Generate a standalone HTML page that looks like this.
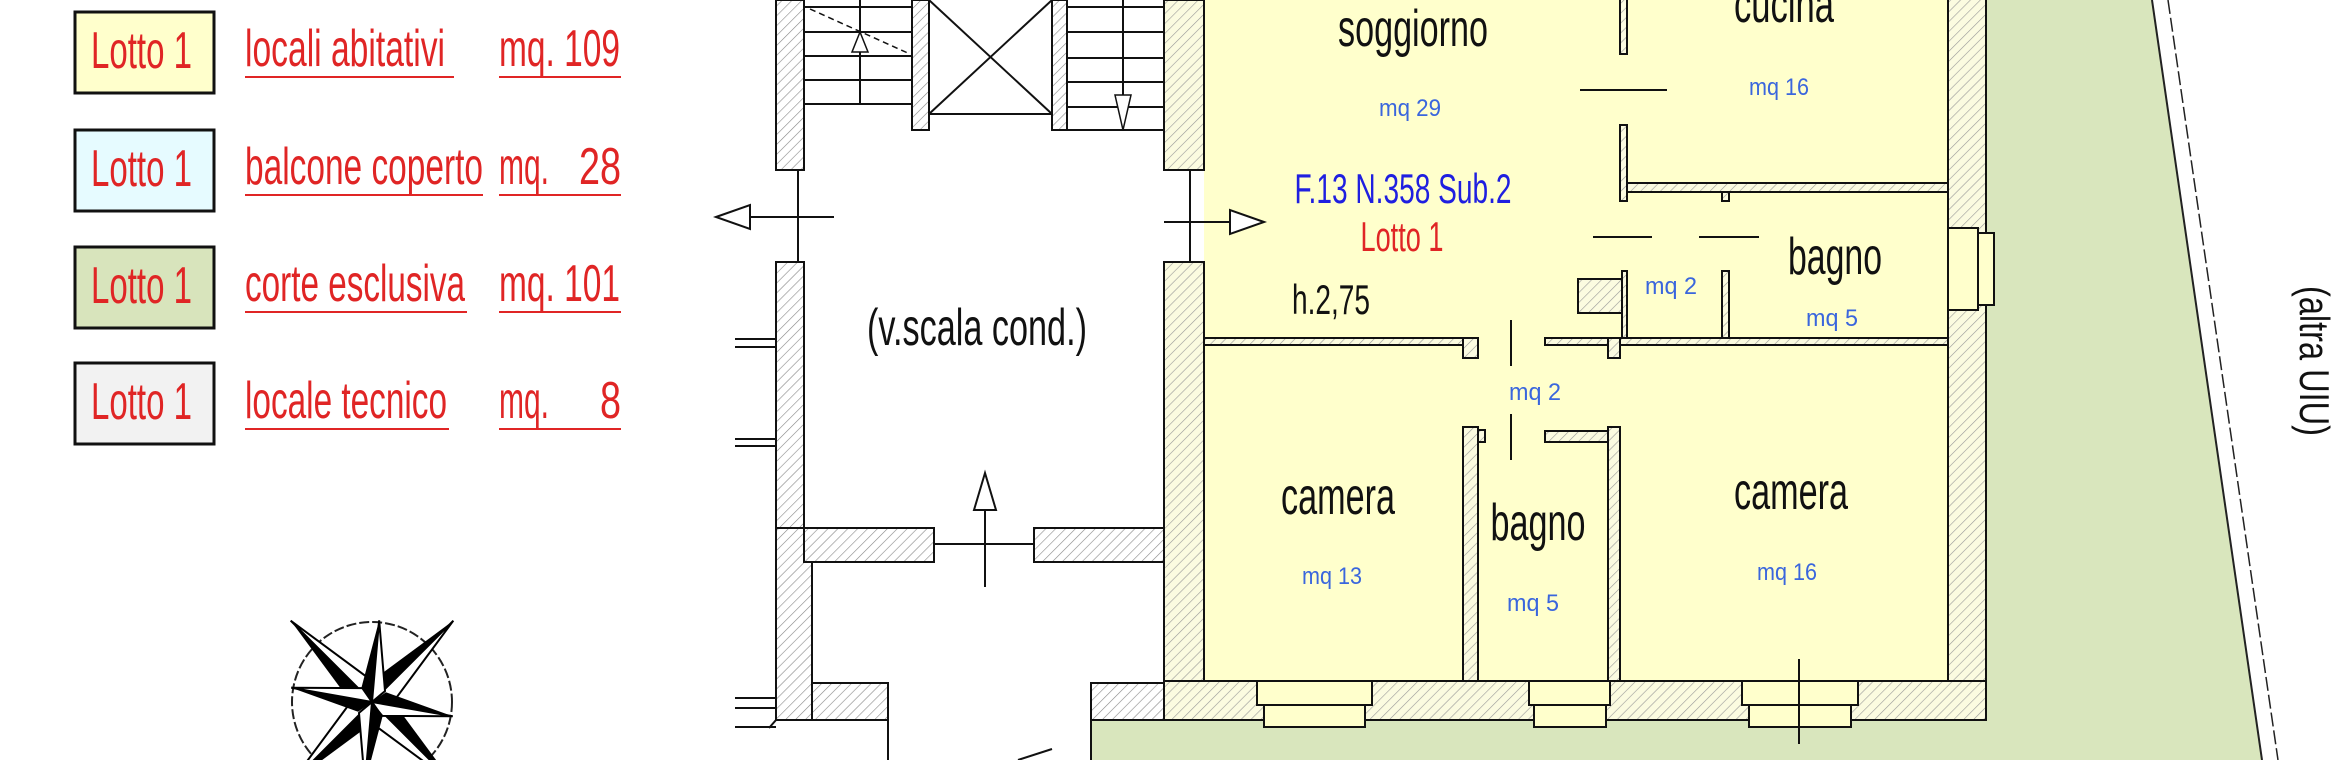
<!DOCTYPE html>
<html><head><meta charset="utf-8"><style>
html,body{margin:0;padding:0;background:#fff}
svg{display:block}
text{font-family:"Liberation Sans",sans-serif}
</style></head><body>
<svg width="2345" height="760" viewBox="0 0 2345 760" xmlns="http://www.w3.org/2000/svg">
<defs>
<pattern id="h" patternUnits="userSpaceOnUse" width="7" height="7" patternTransform="rotate(45)">
<rect width="7" height="7" fill="#fff"/><line x1="0" y1="0" x2="0" y2="7" stroke="#888" stroke-width="1.2"/>
</pattern>
<pattern id="hy" patternUnits="userSpaceOnUse" width="7" height="7" patternTransform="rotate(45)">
<rect width="7" height="7" fill="#fbfbe0"/><line x1="0" y1="0" x2="0" y2="7" stroke="#999" stroke-width="1.2"/>
</pattern>
</defs>
<rect width="2345" height="760" fill="#fff"/>

<!-- green court -->
<polygon points="1986,0 2152,0 2262,760 1091,760 1091,720 1986,720" fill="#d9e6bd"/>
<line x1="2152" y1="0" x2="2262" y2="760" stroke="#222" stroke-width="2"/>
<line x1="2168" y1="0" x2="2278" y2="760" stroke="#222" stroke-width="1.5" stroke-dasharray="14,4"/>

<!-- legend -->
<g stroke="#111" stroke-width="3">
<rect x="75" y="12" width="139" height="81" fill="#ffffcc"/>
<rect x="75" y="130" width="139" height="81" fill="#e6fbff"/>
<rect x="75" y="247" width="139" height="81" fill="#d8e4bc"/>
<rect x="75" y="363" width="139" height="81" fill="#f2f2f2"/>
</g>
<g fill="#e02525" font-size="52">
<text x="91" y="68" textLength="101" lengthAdjust="spacingAndGlyphs">Lotto 1</text>
<text x="91" y="186" textLength="101" lengthAdjust="spacingAndGlyphs">Lotto 1</text>
<text x="91" y="303" textLength="101" lengthAdjust="spacingAndGlyphs">Lotto 1</text>
<text x="91" y="419" textLength="101" lengthAdjust="spacingAndGlyphs">Lotto 1</text>
<text x="245" y="66" textLength="200" lengthAdjust="spacingAndGlyphs">locali abitativi</text>
<text x="245" y="184" textLength="238" lengthAdjust="spacingAndGlyphs">balcone coperto</text>
<text x="245" y="301" textLength="220" lengthAdjust="spacingAndGlyphs">corte esclusiva</text>
<text x="245" y="418" textLength="202" lengthAdjust="spacingAndGlyphs">locale tecnico</text>
<text x="499" y="66" textLength="121" lengthAdjust="spacingAndGlyphs">mq. 109</text>
<text x="499" y="184" textLength="50" lengthAdjust="spacingAndGlyphs">mq.</text>
<text x="621" y="184" text-anchor="end" textLength="42" lengthAdjust="spacingAndGlyphs">28</text>
<text x="499" y="301" textLength="121" lengthAdjust="spacingAndGlyphs">mq. 101</text>
<text x="499" y="418" textLength="50" lengthAdjust="spacingAndGlyphs">mq.</text>
<text x="621" y="418" text-anchor="end" textLength="21" lengthAdjust="spacingAndGlyphs">8</text>
</g>
<g stroke="#e02525" stroke-width="2">
<line x1="245" y1="77" x2="454" y2="77"/><line x1="499" y1="77" x2="621" y2="77"/>
<line x1="245" y1="195" x2="483" y2="195"/><line x1="499" y1="195" x2="621" y2="195"/>
<line x1="245" y1="312" x2="467" y2="312"/><line x1="499" y1="312" x2="621" y2="312"/>
<line x1="245" y1="429" x2="449" y2="429"/><line x1="499" y1="429" x2="621" y2="429"/>
</g>

<!-- compass -->
<g transform="translate(372,702)">
<circle r="80" fill="none" stroke="#222" stroke-width="2" stroke-dasharray="10,3"/>
<g transform="rotate(-45)">
<polygon points="0,-115 0,0 -15,-15" fill="#000"/><polygon points="0,-115 0,0 15,-15" fill="#fff" stroke="#000" stroke-width="2"/>
</g>
<g transform="rotate(45)">
<polygon points="0,-115 0,0 -15,-15" fill="#000"/><polygon points="0,-115 0,0 15,-15" fill="#fff" stroke="#000" stroke-width="2"/>
</g>
<g transform="rotate(135)">
<polygon points="0,-115 0,0 -15,-15" fill="#000"/><polygon points="0,-115 0,0 15,-15" fill="#fff" stroke="#000" stroke-width="2"/>
</g>
<g transform="rotate(225)">
<polygon points="0,-115 0,0 -15,-15" fill="#000"/><polygon points="0,-115 0,0 15,-15" fill="#fff" stroke="#000" stroke-width="2"/>
</g>
<g transform="rotate(5)">
<polygon points="0,-82 0,0 -12,-12" fill="#000"/><polygon points="0,-82 0,0 12,-12" fill="#fff" stroke="#000" stroke-width="2"/>
</g>
<g transform="rotate(-80)">
<polygon points="0,-82 0,0 -12,-12" fill="#000"/><polygon points="0,-82 0,0 12,-12" fill="#fff" stroke="#000" stroke-width="2"/>
</g>
<g transform="rotate(100)">
<polygon points="0,-82 0,0 -12,-12" fill="#000"/><polygon points="0,-82 0,0 12,-12" fill="#fff" stroke="#000" stroke-width="2"/>
</g>
<g transform="rotate(185)">
<polygon points="0,-82 0,0 -12,-12" fill="#000"/><polygon points="0,-82 0,0 12,-12" fill="#fff" stroke="#000" stroke-width="2"/>
</g>
</g>

<!-- stair area -->
<g stroke="#111" stroke-width="2">
<rect x="776" y="0" width="28" height="170" fill="url(#h)"/>
<rect x="776" y="262" width="28" height="266" fill="url(#h)"/>
<rect x="776" y="528" width="36" height="192" fill="url(#h)"/>
<rect x="804" y="528" width="130" height="34" fill="url(#h)"/>
<rect x="1034" y="528" width="130" height="34" fill="url(#h)"/>
<rect x="812" y="683" width="76" height="37" fill="url(#h)"/>
<rect x="1091" y="683" width="73" height="37" fill="url(#h)"/>
<line x1="812" y1="562" x2="812" y2="683"/>
<line x1="888" y1="720" x2="888" y2="760"/>
<line x1="1091" y1="720" x2="1091" y2="760"/>
<line x1="776" y1="720" x2="769" y2="728"/>
<line x1="798" y1="170" x2="798" y2="262"/>
<line x1="750" y1="217" x2="834" y2="217"/>
<polygon points="716,217 750,205 750,229" fill="#fff"/>
<line x1="934" y1="544" x2="1034" y2="544"/>
<line x1="985" y1="500" x2="985" y2="587"/>
<polygon points="985,473 974,510 996,510" fill="#fff"/>
<line x1="735" y1="339" x2="776" y2="339"/><line x1="735" y1="347" x2="776" y2="347"/>
<line x1="735" y1="439" x2="776" y2="439"/><line x1="735" y1="446" x2="776" y2="446"/>
<line x1="735" y1="698" x2="776" y2="698"/><line x1="735" y1="708" x2="776" y2="708"/>
<line x1="735" y1="727" x2="776" y2="727"/>
<line x1="1018" y1="760" x2="1052" y2="749"/>
<line x1="804" y1="7" x2="912" y2="7"/><line x1="804" y1="32" x2="912" y2="32"/>
<line x1="804" y1="56" x2="912" y2="56"/><line x1="804" y1="80" x2="912" y2="80"/>
<line x1="804" y1="104" x2="912" y2="104"/>
<line x1="860" y1="0" x2="860" y2="104"/>
<line x1="810" y1="9" x2="910" y2="54" stroke-dasharray="6,4" stroke-width="1.5"/>
<line x1="860" y1="66" x2="860" y2="45"/>
<polygon points="860,32 852,52 868,52" fill="#fff" stroke-width="1.5"/>
<rect x="912" y="0" width="17" height="130" fill="url(#h)"/>
<rect x="1052" y="0" width="15" height="130" fill="url(#h)"/>
<rect x="929" y="-2" width="123" height="116" fill="#fff"/>
<line x1="929" y1="0" x2="1052" y2="114"/><line x1="1052" y1="0" x2="929" y2="114"/>
<line x1="1067" y1="7" x2="1170" y2="7"/><line x1="1067" y1="32" x2="1170" y2="32"/>
<line x1="1067" y1="58" x2="1170" y2="58"/><line x1="1067" y1="82" x2="1170" y2="82"/>
<line x1="1067" y1="107" x2="1170" y2="107"/><line x1="1067" y1="130" x2="1170" y2="130"/>
<line x1="1123" y1="0" x2="1123" y2="130"/>
<polygon points="1123,130 1115,95 1131,95" fill="#fff" stroke-width="1.5"/>
</g>
<text x="867" y="345" font-size="52" textLength="220" lengthAdjust="spacingAndGlyphs" fill="#111">(v.scala cond.)</text>

<!-- apartment -->
<rect x="1204" y="0" width="744" height="681" fill="#ffffcc"/>
<g stroke="#111" stroke-width="2">
<rect x="1164" y="0" width="40" height="170" fill="url(#hy)"/>
<rect x="1164" y="262" width="40" height="458" fill="url(#hy)"/>
<rect x="1948" y="-2" width="38" height="722" fill="url(#hy)"/>
<rect x="1164" y="681" width="822" height="39" fill="url(#hy)"/>
<rect x="1204" y="338" width="274" height="7" fill="url(#hy)"/>
<rect x="1463" y="338" width="15" height="20" fill="url(#hy)"/>
<rect x="1545" y="338" width="403" height="7" fill="url(#hy)"/>
<rect x="1608" y="338" width="12" height="20" fill="url(#hy)"/>
<rect x="1463" y="427" width="15" height="254" fill="url(#hy)"/>
<rect x="1478" y="430" width="7" height="12" fill="url(#hy)"/>
<rect x="1608" y="427" width="12" height="254" fill="url(#hy)"/>
<rect x="1545" y="431" width="63" height="11" fill="url(#hy)"/>
<rect x="1620" y="-2" width="7" height="56" fill="url(#hy)"/>
<rect x="1620" y="125" width="7" height="76" fill="url(#hy)"/>
<rect x="1627" y="183" width="321" height="9" fill="url(#hy)"/>
<rect x="1722" y="192" width="7" height="9" fill="url(#hy)"/>
<rect x="1578" y="279" width="44" height="34" fill="url(#hy)"/>
<rect x="1622" y="271" width="5" height="67" fill="url(#hy)"/>
<rect x="1722" y="271" width="7" height="67" fill="url(#hy)"/>
<rect x="1948" y="228" width="30" height="82" fill="#ffffcc"/>
<rect x="1978" y="233" width="16" height="72" fill="#ffffcc"/>
<rect x="1257" y="681" width="115" height="24" fill="#ffffcc"/>
<rect x="1264" y="705" width="101" height="22" fill="#ffffcc"/>
<rect x="1529" y="681" width="81" height="24" fill="#ffffcc"/>
<rect x="1534" y="705" width="72" height="22" fill="#ffffcc"/>
<rect x="1742" y="681" width="116" height="24" fill="#ffffcc"/>
<rect x="1749" y="705" width="102" height="22" fill="#ffffcc"/>
<line x1="1580" y1="90" x2="1667" y2="90"/>
<line x1="1593" y1="237" x2="1652" y2="237"/>
<line x1="1699" y1="237" x2="1759" y2="237"/>
<line x1="1511" y1="320" x2="1511" y2="366"/>
<line x1="1511" y1="414" x2="1511" y2="460"/>
<line x1="1799" y1="659" x2="1799" y2="744"/>
<line x1="1190" y1="170" x2="1190" y2="262"/>
<line x1="1164" y1="222" x2="1240" y2="222"/>
<polygon points="1264,222 1230,210 1230,234" fill="#fff"/>
</g>

<!-- labels -->
<g fill="#111" font-size="52">
<text x="1413" y="46" text-anchor="middle" textLength="150" lengthAdjust="spacingAndGlyphs">soggiorno</text>
<text x="1784" y="22" text-anchor="middle" textLength="100" lengthAdjust="spacingAndGlyphs">cucina</text>
<text x="1835" y="274" text-anchor="middle" textLength="94" lengthAdjust="spacingAndGlyphs">bagno</text>
<text x="1338" y="514" text-anchor="middle" textLength="114" lengthAdjust="spacingAndGlyphs">camera</text>
<text x="1538" y="540" text-anchor="middle" textLength="95" lengthAdjust="spacingAndGlyphs">bagno</text>
<text x="1791" y="509" text-anchor="middle" textLength="114" lengthAdjust="spacingAndGlyphs">camera</text>
<text x="1292" y="314" font-size="42" textLength="78" lengthAdjust="spacingAndGlyphs">h.2,75</text>
</g>
<text x="1403" y="203" text-anchor="middle" font-size="42" fill="#1f1fe0" textLength="217" lengthAdjust="spacingAndGlyphs">F.13 N.358 Sub.2</text>
<text x="1402" y="251" text-anchor="middle" font-size="42" fill="#e02525" textLength="83" lengthAdjust="spacingAndGlyphs">Lotto 1</text>
<g fill="#3a66dd" font-size="24">
<text x="1410" y="116" text-anchor="middle" textLength="62" lengthAdjust="spacingAndGlyphs">mq 29</text>
<text x="1779" y="95" text-anchor="middle" textLength="60" lengthAdjust="spacingAndGlyphs">mq 16</text>
<text x="1671" y="294" text-anchor="middle" textLength="52" lengthAdjust="spacingAndGlyphs">mq 2</text>
<text x="1832" y="326" text-anchor="middle" textLength="52" lengthAdjust="spacingAndGlyphs">mq 5</text>
<text x="1535" y="400" text-anchor="middle" textLength="52" lengthAdjust="spacingAndGlyphs">mq 2</text>
<text x="1332" y="584" text-anchor="middle" textLength="60" lengthAdjust="spacingAndGlyphs">mq 13</text>
<text x="1533" y="611" text-anchor="middle" textLength="52" lengthAdjust="spacingAndGlyphs">mq 5</text>
<text x="1787" y="580" text-anchor="middle" textLength="60" lengthAdjust="spacingAndGlyphs">mq 16</text>
</g>
<text transform="translate(2300,361) rotate(90)" text-anchor="middle" font-size="42" fill="#111" textLength="150" lengthAdjust="spacingAndGlyphs">(altra UIU)</text>
</svg>
</body></html>
